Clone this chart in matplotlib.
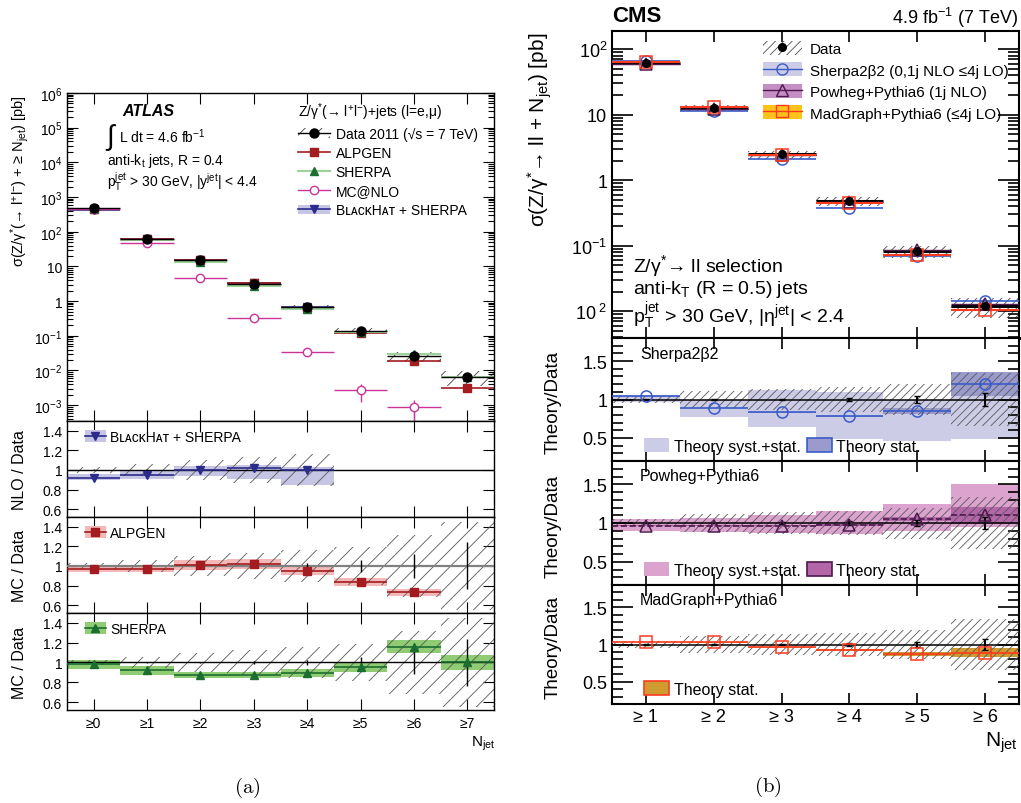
import numpy as np
import matplotlib.pyplot as plt
from matplotlib.patches import Patch
from matplotlib.lines import Line2D
from matplotlib.ticker import FixedLocator, FixedFormatter, LogLocator, NullFormatter, MultipleLocator

plt.rcParams['font.family'] = ['Liberation Sans', 'DejaVu Sans']
plt.rcParams['mathtext.fontset'] = 'custom'
plt.rcParams['mathtext.rm'] = 'Liberation Sans'
plt.rcParams['mathtext.it'] = 'Liberation Sans:italic'
plt.rcParams['mathtext.bf'] = 'Liberation Sans:bold'
plt.rcParams['mathtext.default'] = 'regular'
plt.rcParams['hatch.linewidth'] = 0.6

# ATLAS: Z + >= N jets cross sections and ratios to data
atlas_bins = ['≥0', '≥1', '≥2', '≥3', '≥4', '≥5', '≥6', '≥7']
atlas_data = [470, 63, 15, 3.2, 0.66, 0.14, 0.026, 0.0066]
atlas_syst = [0.03, 0.06, 0.10, 0.13, 0.16, 0.19, 0.32, 0.45]
atlas_stat = [0.005, 0.01, 0.01, 0.02, 0.03, 0.06, 0.12, 0.24]

blackhat_ratio = [0.92, 0.95, 1.00, 1.02, 1.00]
blackhat_lo = [0.90, 0.91, 0.94, 0.91, 0.85]
blackhat_hi = [0.955, 0.99, 1.04, 1.05, 1.03]

alpgen_ratio = [0.97, 0.97, 1.01, 1.02, 0.95, 0.84, 0.73, 0.47]
alpgen_unc = [0.035, 0.035, 0.05, 0.05, 0.04, 0.04, 0.04, 0.04]

sherpa_ratio = [0.98, 0.92, 0.87, 0.875, 0.89, 0.95, 1.16, 1.00]
sherpa_unc = [0.045, 0.045, 0.03, 0.03, 0.04, 0.05, 0.065, 0.075]

mcnlo_xs = [460, 46, 4.7, 0.33, 0.034, 0.0027, 0.00087]
mcnlo_err_lo = [0, 0, 0, 0, 0, 0.0015, 0.0007]
mcnlo_err_hi = [0, 0, 0, 0, 0, 0.0013, 0.0005]

# CMS: Z/gamma* -> ll + >= N jets
cms_bins = ['≥ 1', '≥ 2', '≥ 3', '≥ 4', '≥ 5', '≥ 6']
cms_data = [62.7, 12.9, 2.49, 0.48, 0.082, 0.0119]
cms_syst = [0.05, 0.11, 0.14, 0.16, 0.20, 0.34]
cms_stat = [0.003, 0.005, 0.01, 0.02, 0.04, 0.08]

sherpa2_ratio = [1.04, 0.89, 0.835, 0.78, 0.85, 1.20]
sherpa2_tot_lo = [0.965, 0.77, 0.64, 0.49, 0.465, 0.48]
sherpa2_tot_hi = [1.06, 1.00, 1.12, 1.10, 1.00, 1.36]
sherpa2_stat = [0.01, 0.005, 0.005, 0.01, 0.045, 0.155]

powheg_ratio = [0.965, 0.965, 0.965, 0.975, 1.05, 1.10]
powheg_tot_lo = [0.90, 0.88, 0.865, 0.86, 0.90, 0.95]
powheg_tot_hi = [1.05, 1.06, 1.10, 1.15, 1.25, 1.50]
powheg_stat = [0.01, 0.005, 0.005, 0.01, 0.03, 0.11]

madgraph_ratio = [1.035, 1.027, 0.96, 0.925, 0.87, 0.89]
madgraph_stat = [0.005, 0.005, 0.005, 0.008, 0.025, 0.06]

# colours
BH, BH_BAND = '#2b2b8c', '#c6c6e4'
ALP, ALP_BAND = '#a31c1f', '#f5b8b8'
SH, SH_LINE, SH_BAND = '#1b6e30', '#9dd39a', '#8fcc74'
MCN = '#cc3399'
SH2, SH2_LIGHT, SH2_DARK = '#3a5cc8', '#cdcce6', '#9a9acc'
PW, PW_LIGHT, PW_DARK, PW_LEG = '#4d1a4d', '#dca3cf', '#b366a8', '#c58fc5'
MG, MG_DARK, MG_LEG = '#ff3a1e', '#cf9b30', '#ffc21a'

W, H = 1021, 804
fig = plt.figure(figsize=(W / 100, H / 100), dpi=100)


def px_axes(x0, y0, x1, y1):
    return fig.add_axes([x0 / W, 1 - y1 / H, (x1 - x0) / W, (y1 - y0) / H])


def fig_text(x, y, s, **kw):
    return fig.text(x / W, 1 - y / H, s, **kw)


def style(ax, labelsize, ymajor, yminor, xmajor, width, spine):
    ax.tick_params(which='both', direction='in', top=True, right=True,
                   width=width, labelsize=labelsize)
    ax.tick_params(axis='y', which='major', length=ymajor)
    ax.tick_params(axis='y', which='minor', length=yminor)
    ax.tick_params(axis='x', which='major', length=xmajor)
    for s in ax.spines.values():
        s.set_linewidth(spine)


# ================= ATLAS =================
xa = np.arange(len(atlas_bins))
d = np.array(atlas_data)
sy = np.array(atlas_syst)
st = np.array(atlas_stat)
nb = len(blackhat_ratio)

ax = px_axes(67, 94, 494, 422)
ax.bar(xa, 2 * sy * d, bottom=d * (1 - sy), width=1, facecolor='none',
       edgecolor='0.25', hatch='//', lw=0, zorder=1)
bh = d[:nb] * np.array(blackhat_ratio)
ax.bar(xa[:nb], d[:nb] * (np.array(blackhat_hi) - np.array(blackhat_lo)),
       bottom=d[:nb] * np.array(blackhat_lo), width=1, color=BH_BAND, lw=0, zorder=1)
ax.hlines(bh, xa[:nb] - 0.5, xa[:nb] + 0.5, color=BH, lw=1.2, zorder=2)
ax.plot(xa[:nb], bh, 'v', color=BH, ms=6, zorder=3)
alp = d * np.array(alpgen_ratio)
ax.hlines(alp, xa - 0.5, xa + 0.5, color=ALP, lw=1.2, zorder=2)
ax.plot(xa, alp, 's', color=ALP, ms=6, zorder=3)
sh = d * np.array(sherpa_ratio)
ax.hlines(sh, xa - 0.5, xa + 0.5, color=SH_LINE, lw=1.5, zorder=2)
ax.plot(xa, sh, '^', color=SH, ms=6, zorder=3)
nm = len(mcnlo_xs)
ax.errorbar(xa[:nm], mcnlo_xs, xerr=0.5, yerr=[mcnlo_err_lo, mcnlo_err_hi], fmt='o',
            color=MCN, mfc='white', ms=6, lw=1, capsize=0, zorder=3)
ax.errorbar(xa, d, xerr=0.5, yerr=d * st, fmt='o', color='black', ms=6.5, lw=1,
            capsize=0, zorder=4)

ax.set_xlim(-0.5, 7.5)
ax.set_yscale('log')
ax.set_ylim(3.5e-4, 1e6)
ax.yaxis.set_major_locator(FixedLocator([10.0 ** k for k in range(-3, 7)]))
ax.yaxis.set_major_formatter(FixedFormatter(
    ['$10^{-3}$', '$10^{-2}$', '$10^{-1}$', '1', '10', '$10^{2}$', '$10^{3}$',
     '$10^{4}$', '$10^{5}$', '$10^{6}$']))
ax.yaxis.set_minor_locator(LogLocator(base=10, subs=np.arange(2, 10), numticks=30))
ax.yaxis.set_minor_formatter(NullFormatter())
ax.set_xticks(xa)
ax.set_xticklabels([])
style(ax, 10, 8, 4, 8, 0.8, 1.0)

handles = [
    (Patch(facecolor='none', edgecolor='0.25', hatch='//', lw=0),
     Line2D([], [], color='black', marker='o', ms=6.5, lw=1)),
    Line2D([], [], color=ALP, marker='s', ms=6, lw=1.2),
    Line2D([], [], color=SH_LINE, marker='^', mfc=SH, mec=SH, ms=6, lw=1.5),
    Line2D([], [], color=MCN, marker='o', mfc='white', ms=6, lw=1),
    (Patch(color=BH_BAND, lw=0), Line2D([], [], color=BH, marker='v', ms=6, lw=1.2)),
]
labels = ['Data 2011 (√s = 7 TeV)', 'ALPGEN', 'SHERPA', 'MC@NLO', 'BʟᴀᴄᴋHᴀᴛ + SHERPA']
ax.legend(handles, labels, title='Z/γ$^{*}$(→ l$^{+}$l$^{-}$)+jets (l=e,μ)',
          loc='upper left', bbox_to_anchor=(298 / W, 1 - 101 / H),
          bbox_transform=fig.transFigure, frameon=False, fontsize=10,
          title_fontsize=10, alignment='left', handlelength=2.3, handletextpad=0.4,
          labelspacing=0.37, borderpad=0, borderaxespad=0)

fig_text(122, 112, 'ATLAS', fontsize=11.5, fontweight='bold', fontstyle='italic', va='center')
fig_text(106, 138, '∫', fontsize=20, va='center')
fig_text(119, 137, 'L dt = 4.6 fb$^{-1}$', fontsize=10, va='center')
fig_text(107, 161, 'anti-k$_{t}$ jets, R = 0.4', fontsize=10, va='center')
fig_text(107, 182, 'p$_{T}^{jet}$ > 30 GeV, |y$^{jet}$| < 4.4', fontsize=10, va='center')
fig_text(20, 95, 'σ(Z/γ$^{*}$(→ l$^{+}$l$^{-}$) + ≥ N$_{jet}$) [pb]', rotation=90,
         ha='center', va='top', fontsize=10.5)


def atlas_ratio(y0, y1, n, ratio, lo, hi, color, band, line_color, marker, mfc,
                label, ylabel, hatch_bins, unity_color='black', unity_lw=1.0, last=False):
    ax = px_axes(67, y0, 494, y1)
    ax.bar(xa[:n], hi - lo, bottom=lo, width=1, color=band, lw=0, zorder=1)
    m = hatch_bins
    ax.bar(xa[:m], 2 * sy[:m], bottom=1 - sy[:m], width=1, facecolor='none',
           edgecolor='0.35', hatch='//', lw=0, zorder=2)
    ax.axhline(1, color=unity_color, lw=unity_lw, zorder=3)
    ax.errorbar(xa[:m], np.ones(m), yerr=st[:m], fmt='none', ecolor='black', lw=1,
                capsize=0, zorder=4)
    ax.hlines(ratio, xa[:n] - 0.5, xa[:n] + 0.5, color=line_color, lw=1.2, zorder=5)
    ax.plot(xa[:n], ratio, marker, color=color, mfc=mfc, ms=6, ls='none', zorder=6)
    ax.set_xlim(-0.5, 7.5)
    ax.set_ylim(0.52, 1.5)
    ax.set_yticks([0.6, 0.8, 1.0, 1.2, 1.4])
    ax.set_yticklabels(['0.6', '0.8', '1', '1.2', '1.4'])
    ax.set_xticks(xa)
    ax.set_xticklabels(atlas_bins if last else [])
    ax.tick_params(axis='x', pad=4)
    style(ax, 10, 8, 4, 8, 0.8, 1.0)
    h = (Patch(color=band, lw=0),
         Line2D([], [], color=line_color, marker=marker, mfc=mfc, mec=color, ms=6, lw=1.2))
    ax.legend([h], [label], loc='center left', bbox_to_anchor=(85 / W, 1 - (y0 + 16) / H),
              bbox_transform=fig.transFigure, frameon=False, fontsize=10,
              handlelength=1.5, handleheight=1.0, handletextpad=0.3,
              borderpad=0, borderaxespad=0)
    fig_text(20, (y0 + y1) / 2, ylabel, rotation=90, ha='center', va='center', fontsize=11.5)
    return ax


atlas_ratio(422, 518, nb, np.array(blackhat_ratio), np.array(blackhat_lo),
            np.array(blackhat_hi), BH, BH_BAND, BH, 'v', BH,
            'BʟᴀᴄᴋHᴀᴛ + SHERPA', 'NLO / Data', nb)
ar = np.array(alpgen_ratio)
au = np.array(alpgen_unc)
atlas_ratio(518, 614, len(xa), ar, ar - au, ar + au, ALP, ALP_BAND, ALP, 's', ALP,
            'ALPGEN', 'MC / Data', len(xa), unity_color='0.5', unity_lw=1.6)
sr = np.array(sherpa_ratio)
su = np.array(sherpa_unc)
atlas_ratio(614, 711, len(xa), sr, sr - su, sr + su, SH, SH_BAND, SH, '^', SH,
            'SHERPA', 'MC / Data', len(xa), last=True)
fig_text(483, 744, 'N$_{jet}$', fontsize=11, ha='center', va='center')
fig_text(247, 788, r'$\mathrm{(a)}$', fontsize=15, ha='center', va='center',
         math_fontfamily='cm')

# ================= CMS =================
xc = np.arange(1, len(cms_bins) + 1)
cd = np.array(cms_data)
cs = np.array(cms_syst)
cst = np.array(cms_stat)

ax = px_axes(612, 32, 1019, 339)
ax.bar(xc, 2 * cs * cd, bottom=cd * (1 - cs), width=1, facecolor='none',
       edgecolor='0.3', hatch='////', lw=0, zorder=1)
ax.hlines(cd, xc - 0.5, xc + 0.5, color='black', lw=2.2, zorder=2)
sh2 = cd * np.array(sherpa2_ratio)
ax.hlines(sh2, xc - 0.5, xc + 0.5, color=SH2, lw=1.2, zorder=3)
ax.plot(xc, sh2, 'o', mfc='none', mec=SH2, ms=8, mew=1.1, zorder=4)
pw = cd * np.array(powheg_ratio)
ax.hlines(pw, xc - 0.5, xc + 0.5, color=PW, lw=1.0, zorder=3)
ax.plot(xc, pw, '^', mfc='none', mec=PW, ms=8, mew=1.1, zorder=4)
mg = cd * np.array(madgraph_ratio)
ax.hlines(mg, xc - 0.5, xc + 0.5, color=MG, lw=1.5, zorder=3)
ax.plot(xc, mg, 's', mfc='none', mec=MG, ms=8, mew=1.1, zorder=4)
ax.errorbar(xc, cd, yerr=cd * cst, fmt='o', color='black', ms=5.5, lw=1, capsize=0,
            zorder=5)
ax.set_xlim(0.5, 6.5)
ax.set_yscale('log')
ax.set_ylim(0.0039, 190)
ax.yaxis.set_major_locator(FixedLocator([0.01, 0.1, 1, 10, 100]))
ax.yaxis.set_major_formatter(FixedFormatter(['$10^{\\ 2}$', '$10^{-1}$', '1', '10', '$10^{2}$']))
ax.yaxis.set_minor_locator(LogLocator(base=10, subs=np.arange(2, 10), numticks=30))
ax.yaxis.set_minor_formatter(NullFormatter())
ax.set_xticks(xc)
ax.set_xticklabels([])
style(ax, 13, 15, 8, 8, 1.2, 1.5)
ax.spines['bottom'].set_linewidth(2.2)

handles = [
    (Patch(facecolor='none', edgecolor='0.3', hatch='////', lw=0),
     Line2D([], [], color='black', marker='o', ls='none', ms=5.5)),
    (Patch(color=SH2_LIGHT, lw=0), Line2D([], [], color=SH2, marker='o', mfc='none', ms=8, lw=1)),
    (Patch(color=PW_LEG, lw=0), Line2D([], [], color=PW, marker='^', mfc='none', ms=8, lw=1)),
    (Patch(color=MG_LEG, lw=0), Line2D([], [], color=MG, marker='s', mfc='none', ms=8, lw=1)),
]
labels = ['Data', 'Sherpa2β2 (0,1j NLO ≤4j LO)', 'Powheg+Pythia6 (1j NLO)',
          'MadGraph+Pythia6 (≤4j LO)']
ax.legend(handles, labels, loc='upper left', bbox_to_anchor=(763 / W, 1 - 42 / H),
          bbox_transform=fig.transFigure, frameon=False, fontsize=11,
          handlelength=2.55, handleheight=1.0, handletextpad=0.5, labelspacing=0.42,
          borderpad=0, borderaxespad=0)

fig_text(633, 266, 'Z/γ$^{*}$→ ll selection', fontsize=14, va='center')
fig_text(633, 290, 'anti-k$_{T}$ (R = 0.5) jets', fontsize=14, va='center')
fig_text(633, 316, 'p$_{T}^{jet}$ > 30 GeV, |η$^{jet}$| < 2.4', fontsize=14, va='center')
fig_text(612, 17, 'CMS', fontsize=16, fontweight='bold', va='center')
fig_text(1018, 18, '4.9 fb$^{-1}$ (7 TeV)', fontsize=13, ha='right', va='center')
fig_text(540, 33, 'σ(Z/γ$^{*}$→ ll + N$_{jet}$) [pb]', rotation=90, ha='center',
         va='top', fontsize=15)

panels = [
    (339, 462, 'Sherpa2β2', sherpa2_ratio, sherpa2_tot_lo, sherpa2_tot_hi, sherpa2_stat,
     SH2_LIGHT, SH2_DARK, SH2, SH2, 'o', '-'),
    (462, 586, 'Powheg+Pythia6', powheg_ratio, powheg_tot_lo, powheg_tot_hi, powheg_stat,
     PW_LIGHT, PW_DARK, PW, PW, '^', '--'),
    (586, 705, 'MadGraph+Pythia6', madgraph_ratio, None, None, madgraph_stat,
     None, MG_DARK, MG, MG, 's', '-'),
]
for y0, y1, name, ratio, tlo, thi, tst, light, dark, edge, lc, mk, ls in panels:
    ax = px_axes(612, y0, 1019, y1)
    r = np.array(ratio)
    s = np.array(tst)
    if tlo is not None:
        ax.bar(xc, np.array(thi) - np.array(tlo), bottom=tlo, width=1, color=light,
               lw=0, zorder=1)
    ax.bar(xc, 2 * s, bottom=r - s, width=1, facecolor=dark, edgecolor='none', lw=0,
           zorder=2)
    ax.bar(xc, 2 * cs, bottom=1 - cs, width=1, facecolor='none', edgecolor='0.35',
           hatch='////', lw=0, zorder=3)
    ax.axhline(1, color='black', lw=1.1, zorder=4)
    ax.errorbar(xc, np.ones(len(xc)), yerr=cst, fmt='none', ecolor='black', lw=1.5,
                capsize=2, zorder=5)
    ax.hlines(r, xc - 0.5, xc + 0.5, color=lc, lw=1.2, linestyles=ls, zorder=6)
    ax.plot(xc, r, mk, mfc='none', mec=lc, ms=8, mew=1.1, zorder=7)
    ax.set_xlim(0.5, 6.5)
    ax.set_ylim(0.2, 1.8)
    ax.set_yticks([0.5, 1.0, 1.5])
    ax.set_yticklabels(['0.5', '1', '1.5'])
    ax.yaxis.set_minor_locator(MultipleLocator(0.1))
    ax.set_xticks(xc)
    last = y1 == 705
    ax.set_xticklabels(cms_bins if last else [])
    ax.tick_params(axis='x', pad=3)
    style(ax, 13, 15, 8, 8, 1.2, 1.5)
    fig_text(640, y0 + 15, name, fontsize=11.5, va='center')
    fig_text(553, (y0 + y1) / 2 + 2, 'Theory/Data', rotation=90, ha='center',
             va='center', fontsize=13.5)
    if tlo is not None:
        hs = [Patch(color=light, lw=0), Patch(facecolor=dark, edgecolor=edge, lw=1.2)]
        ls_ = ['Theory syst.+stat.', 'Theory stat.']
    else:
        hs = [Patch(facecolor=dark, edgecolor=edge, lw=1.2)]
        ls_ = ['Theory stat.']
    ax.legend(hs, ls_, ncol=2, loc='center left', bbox_to_anchor=(644 / W, 1 - (y1 - 15) / H),
              bbox_transform=fig.transFigure, frameon=False, fontsize=11.5,
              handlelength=1.55, handleheight=0.95, handletextpad=0.3, columnspacing=0.4,
              borderpad=0, borderaxespad=0)

fig_text(1018, 743, 'N$_{jet}$', fontsize=15, ha='right', va='center')
fig_text(768, 787, r'$\mathrm{(b)}$', fontsize=15, ha='center', va='center',
         math_fontfamily='cm')

fig.savefig('out.png', dpi=100)
